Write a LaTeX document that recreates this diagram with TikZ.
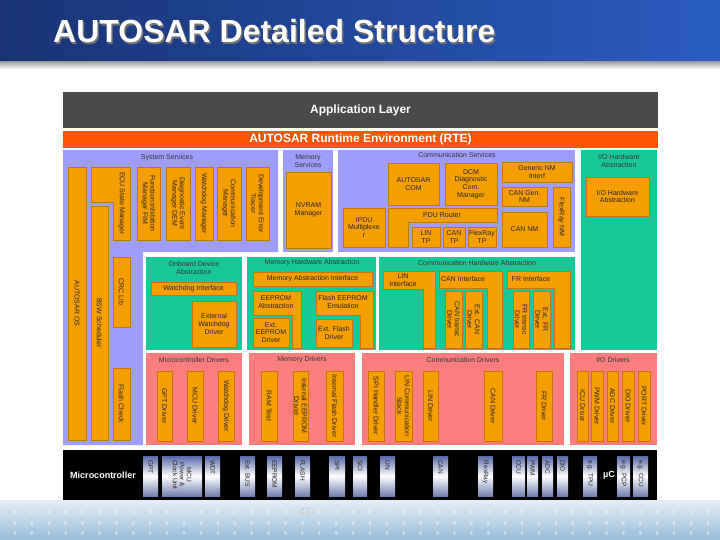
\documentclass[tikz,border=0pt]{standalone}
\usepackage{fontspec}
\setmainfont{Liberation Sans}
\usetikzlibrary{positioning}

\definecolor{titleL}{RGB}{24,52,116}
\definecolor{titleR}{RGB}{42,92,192}
\definecolor{footblue}{RGB}{150,188,218}
\definecolor{appgray}{RGB}{74,74,74}
\definecolor{rteorange}{RGB}{255,84,0}
\definecolor{lav}{RGB}{158,158,250}
\definecolor{grn}{RGB}{24,200,152}
\definecolor{pnk}{RGB}{250,126,126}
\definecolor{boxor}{RGB}{245,158,0}
\definecolor{boxedge}{RGB}{196,118,0}
\definecolor{ucblue}{RGB}{88,104,166}

\begin{document}
\begin{tikzpicture}[
  x=1pt,y=-1pt,
  font=\fontsize{7}{7.6}\selectfont,
  corners/.style n args={4}{minimum width={(#3-#1)*1pt},minimum height={(#4-#2)*1pt},
              at={({(#1+#3)/2},{(#2+#4)/2})}},
  vcorners/.style n args={4}{minimum width={(#4-#2)*1pt},minimum height={(#3-#1)*1pt},
              at={({(#1+#3)/2},{(#2+#4)/2})},rotate=-90},
  obox/.style={draw=boxedge,line width=0.3pt,fill=boxor,inner sep=0pt,align=center,text=black!85},
  lshape/.style={draw=boxedge,line width=0.3pt,fill=boxor},
  ltext/.style={inner sep=0pt,align=center,text=black!85},
  grptitle/.style={inner sep=0pt,align=center,text=black!80},
  layer/.style={inner sep=0pt,text=white,font=\fontsize{12}{14}\selectfont\bfseries},
  titletext/.style={anchor=west,inner sep=0pt,text=white,font=\fontsize{32}{36}\selectfont\bfseries},
  ubox/.style={inner sep=0pt,top color=ucblue,bottom color=ucblue!85,middle color=white},
  utext/.style={rotate=-90,anchor=west,inner sep=0pt,align=center,text=black!85,
                font=\fontsize{6.5}{7}\selectfont},
]

% ---------------- slide frame ----------------
\useasboundingbox (0,0) rectangle (720,540);
\shade[left color=titleL,right color=titleR] (0,0) rectangle (720,62);
\shade[top color=black!35,bottom color=white] (0,62) rectangle (720,69);
\shade[top color=footblue!25,bottom color=footblue] (0,500) rectangle (720,540);
\foreach \yy in {512,523,533}
  \foreach \i in {0,...,41}
    \fill[white,opacity=0.4] ({15+\i*16.9},\yy) ellipse (1.5 and 2.2);
\node[font=\fontsize{11}{12}\selectfont,text=black!22] (pgnum) at (305,512) {47};

\node[titletext,text=black!55] at (54.5,33) {AUTOSAR Detailed Structure};
\node[titletext] (title) at (53,31.5) {AUTOSAR Detailed Structure};

% ---------------- application layer and RTE ----------------
\node[layer,fill=appgray,corners={63}{92}{658}{128}] (app) {Application Layer};
\node[layer,fill=rteorange,corners={63}{131}{658}{148}] (rte) {AUTOSAR Runtime Environment (RTE)};

% ---------------- group areas ----------------
\fill[lav] (63,150) -- (278,150) -- (278,252) -- (143,252) -- (143,445) -- (63,445) -- cycle;
\fill[lav] (283,150) rectangle (333,252);
\fill[lav] (338,150) rectangle (575,252);
\fill[grn] (581,150) rectangle (657,350);
\fill[grn] (146,257) rectangle (242,350);
\fill[grn] (247,257) rectangle (376,350);
\fill[grn] (379,257) rectangle (575,350);
\fill[pnk] (146,353) rectangle (242,445);
\fill[pnk] (249,353) rectangle (355,445);
\fill[pnk] (362,353) rectangle (564,445);
\fill[pnk] (570,353) rectangle (657,445);
\fill[black] (63,450) rectangle (657,500);

% ---------------- group titles ----------------
\node[grptitle] (sysT) at (167,158) {System Services};
\node[grptitle] (memsT) at (308,161) {Memory\\Services};
\node[grptitle] (comsT) at (457,155) {Communication Services};
\node[grptitle] (iohwT) at (619,161) {I/O Hardware\\Abstraction};
\node[grptitle] (onbT) at (194,268) {Onboard Device\\Abstraction};
\node[grptitle] (memhT) at (312,263) {Memory Hardware Abstraction};
\node[grptitle] (comhT) at (477,263) {Communication Hardware Abstraction};
\node[grptitle] (mcalT) at (194,360) {Microcontroller Drivers};
\node[grptitle] (memdT) at (302,360) {Memory Drivers};
\node[grptitle] (comdT) at (463,360) {Communication Drivers};
\node[grptitle] (iodT) at (613,360) {I/O Drivers};

% ---------------- system services ----------------
\node[obox,vcorners={68}{167}{86}{440}] (os) {AUTOSAR OS};
\node[obox,vcorners={91}{206}{108}{440}] (sched) {BSW Scheduler};
\node[obox,vcorners={113}{257}{130}{327}] (crc) {CRC Lib};
\node[obox,vcorners={113}{368}{130}{440}] (fchk) {Flash Check};
\filldraw[lshape] (91,167) -- (130,167) -- (130,240) -- (113,240) -- (113,202) -- (91,202) -- cycle;
\node[ltext,rotate=-90] (ecum) at (121.5,203.5) {ECU State Manager};
\foreach \n/\a/\b/\t in {fim/137/160/{Function Inhibition\\Manager FIM},
                         dem/166/190/{Diagnostic Event\\Manager DEM},
                         wdgm/195/213/{Watchdog Manager},
                         comm/217/241/{Communication\\Manager},
                         det/246/269/{Development Error\\Tracer}}
  \node[obox,vcorners={\a}{167}{\b}{240}] (\n) {\t};

% ---------------- memory and communication services ----------------
\node[obox,corners={286}{172}{331}{248}] (nvm) {NVRAM\\Manager};
\node[obox,corners={388}{163}{439}{205}] (com) {AUTOSAR\\COM};
\node[obox,corners={445}{163}{497}{205}] (dcm) {DCM\\Diagnostic\\Com.\\Manager};
\node[obox,corners={502}{162}{572}{182}] (nmif) {Generic NM\\Interf};
\node[obox,corners={502}{187}{547}{206}] (cangen) {CAN Gen.\\NM};
\node[obox,vcorners={553}{187}{570}{247}] (frnm) {FlexRay NM};
\node[obox,corners={502}{212}{547}{247}] (cannm) {CAN NM};
\node[obox,corners={343}{208}{385}{247}] (ipdum) {IPDU\\Multiplexe\\r};
\filldraw[lshape] (388,208) -- (497,208) -- (497,222) -- (408,222) -- (408,247) -- (388,247) -- cycle;
\node[ltext] (pdur) at (442,215) {PDU Router};
\foreach \n/\a/\b/\t in {lintp/412/440/{LIN\\TP}, cantp/443/465/{CAN\\TP}, frtp/468/496/{FlexRay\\TP}}
  \node[obox,corners={\a}{227}{\b}{247}] (\n) {\t};

% ---------------- I/O hardware abstraction ----------------
\node[obox,corners={586}{177}{649}{216}] (iohw) {I/O Hardware\\Abstraction};

% ---------------- onboard device and memory hardware abstraction ----------------
\node[obox,corners={151}{282}{236}{295}] (wdgif) {Watchdog Interface};
\node[obox,corners={192}{301}{236}{347}] (extwdg) {External\\Watchdog\\Driver};
\node[obox,corners={253}{272}{372}{286}] (memif) {Memory Abstraction Interface};
\filldraw[lshape] (253,291) -- (301,291) -- (301,348) -- (292,348) -- (292,315) -- (253,315) -- cycle;
\node[ltext] (ea) at (276,302) {EEPROM\\Abstraction};
\node[obox,corners={253}{318}{289}{347}] (exteep) {Ext.\\EEPROM\\Driver};
\filldraw[lshape] (316,291) -- (373,291) -- (373,348) -- (360,348) -- (360,315) -- (316,315) -- cycle;
\node[ltext] (fee) at (343,302) {Flash EEPROM\\Emulation};
\node[obox,corners={316}{319}{352}{347}] (extfls) {Ext. Flash\\Driver};

% ---------------- communication hardware abstraction ----------------
\filldraw[lshape] (383,271) -- (435,271) -- (435,348) -- (423,348) -- (423,289) -- (383,289) -- cycle;
\node[ltext] (linif) at (403,280) {LIN\\Interface};
\filldraw[lshape] (439,271) -- (502,271) -- (502,348) -- (487,348) -- (487,288) -- (439,288) -- cycle;
\node[ltext] (canif) at (463,279.5) {CAN Interface};
\filldraw[lshape] (507,271) -- (570,271) -- (570,348) -- (554,348) -- (554,288) -- (507,288) -- cycle;
\node[ltext] (frif) at (531,279.5) {FR Interface};
\foreach \n/\a/\b/\t in {cantrcv/445/462/{CAN transc\\Driver}, extcan/465/482/{Ext. CAN\\Driver},
                         frtrcv/513/529/{FR transc\\Driver}, extfr/533/550/{Ext. FR\\Driver}}
  \node[obox,vcorners={\a}{291}{\b}{348}] (\n) {\t};

% ---------------- drivers ----------------
\foreach \n/\a/\b/\t in {gptd/157/172/{GPT Driver}, mcud/187/203/{MCU Driver},
                         wdgd/218/234/{Watchdog Driver},
                         ramt/261/277/{RAM Test}, ieep/293/308/{Internal EEPROM\\Driver},
                         ifls/326/343/{Internal Flash Driver},
                         spid/368/384/{SPI Handler Driver}, linst/395/412/{LIN Communication\\Stack},
                         lind/423/438/{LIN Driver}, cand/484/502/{CAN Driver}, frd/536/552/{FR Driver},
                         icud/577/588/{ICU Driver}, pwmd/591/603/{PWM Driver}, adcd/607/618/{ADC Driver},
                         diod/622/634/{DIO Driver}, portd/638/650/{PORT Driver}}
  \node[obox,vcorners={\a}{371}{\b}{441}] (\n) {\t};

% ---------------- microcontroller ----------------
\node[inner sep=0pt,text=white,font=\fontsize{9}{10}\selectfont\bfseries] (uc) at (103,475) {Microcontroller};
\node[inner sep=0pt,text=white,font=\fontsize{9}{10}\selectfont\bfseries] (mu) at (609,475) {µC};
\foreach \n/\a/\b/\t in {mgpt/143/158/GPT, mmcu/162/202/{MCU\\Power \&\\Clock Unit}, mwdt/205/220/WDT,
                         mbus/240/255/{Ext. BUS}, meep/267/282/EEPROM, mfls/295/310/FLASH,
                         mspi/329/345/SPI, msci/353/367/SCI, mlin/380/395/LIN, mcan/433/448/CAN,
                         mfr/478/493/FlexRay, mccu/512/525/CCU, mpwm/527/538/PWM, madc/542/553/ADC,
                         mdio/557/568/DIO, mtpu/583/597/{e.g. TPU}, mpcp/617/630/{e.g. PCP},
                         mccx/633/648/{e.g. CCU}}{
  \node[ubox,corners={\a}{456}{\b}{496}] (\n) {};
  \node[utext] (\n-t) at ([yshift=-4pt]\n.north) {\t};
}

\end{tikzpicture}
\end{document}
